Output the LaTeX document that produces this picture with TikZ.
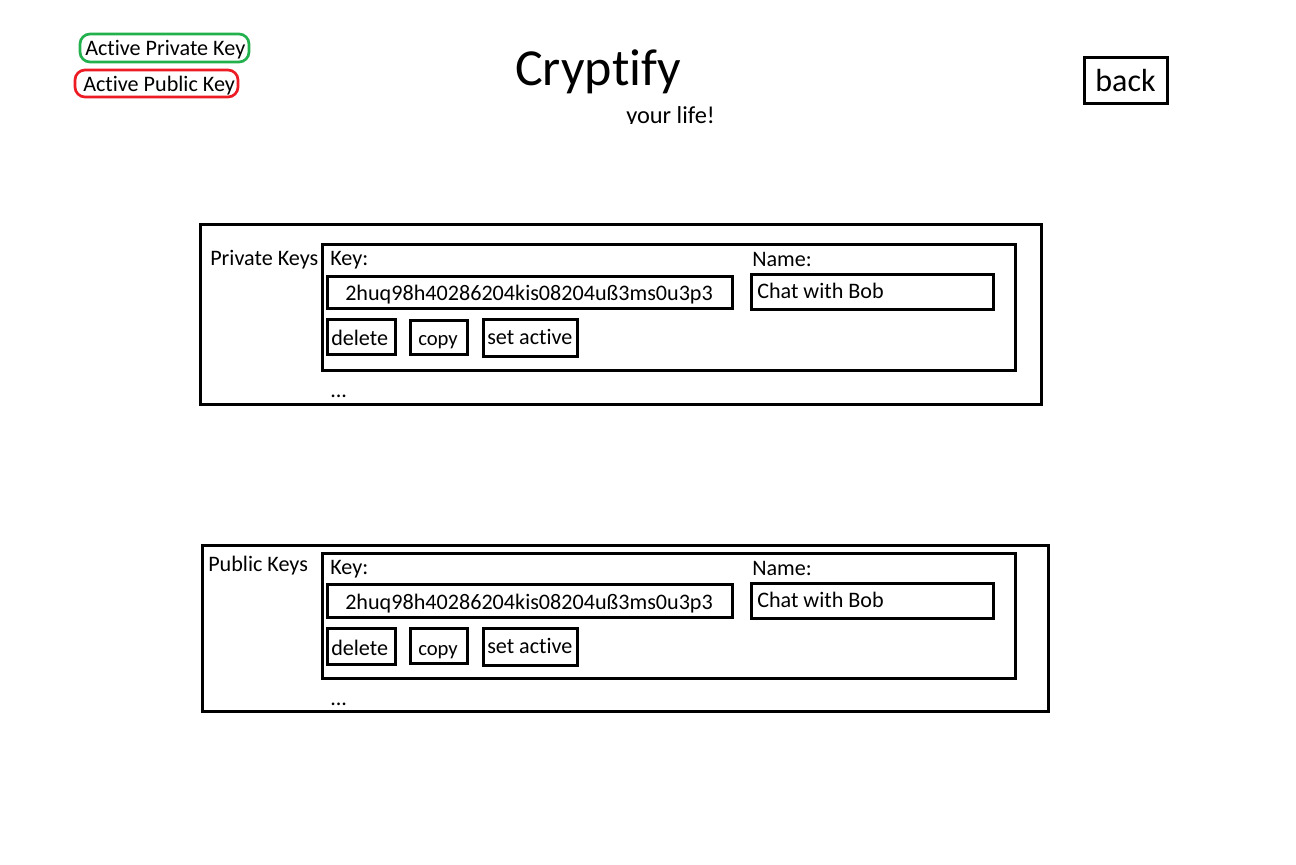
\documentclass[tikz,border=0pt]{standalone}
\usepackage{fontspec}
\setmainfont[Ligatures=NoCommon]{Carlito}
\definecolor{pgreen}{RGB}{34,177,76}
\definecolor{pred}{RGB}{237,28,36}
\begin{document}
\begin{tikzpicture}[x=0.75pt,y=-0.75pt,
  frame/.style={draw=black,line width=2.25pt},
  legendbox/.style={line width=2pt,rounded corners=7.5pt},
  txt/.style={anchor=base west,inner sep=0pt,font=\fontsize{16.6}{19}\selectfont},
  btn/.style={anchor=base west,inner sep=0pt,font=\fontsize{16.6}{19}\selectfont}]
\useasboundingbox[fill=white] (0,0) rectangle (1296,864);

% legend
\draw[legendbox,draw=pgreen] (80,34) rectangle (249,62);
\node[txt] (lpriv) at (85,55) {Active Private Key};
\draw[legendbox,draw=pred] (75,70) rectangle (238,97);
\node[txt] (lpub) at (83,91.5) {Active Public Key};

% title
\node[anchor=base west,inner sep=0pt,font=\fontsize{39}{44}\selectfont] (title) at (515,85) {Cryptify};
\begin{scope}
\clip (600,95) rectangle (760,123.5);
\node[anchor=base west,inner sep=0pt,font=\fontsize{18.3}{22}\selectfont] (sub) at (626,123.3) {your life!};
\end{scope}

% back
\draw[frame] (1084.5,57.5) rectangle (1167,103.5);
\node[anchor=base,inner sep=0pt,font=\fontsize{24}{28}\selectfont] (back) at (1125.5,91) {back};

% ---------- private keys ----------
\draw[frame] (200.5,224.5) rectangle (1041.5,404.5);
\node[txt] (privlbl) at (210,265) {Private Keys};
\draw[frame] (322.5,244.5) rectangle (1015.5,370.5);
\node[txt] (privkey) at (330,265.5) {Key:};
\draw[frame] (327.5,276.5) rectangle (732.5,308.5);
\node[txt] (privkeyval) at (345,300) {2huq98h40286204kis08204uß3ms0u3p3};
\node[txt] (privname) at (752,266.5) {Name:};
\draw[frame] (751.5,274.5) rectangle (993.5,309.5);
\node[txt] (privnameval) at (757,298) {Chat with Bob};
\draw[frame] (327.5,319.5) rectangle (395.5,354.5);
\node[btn] (privdel) at (331,345.5) {delete};
\draw[frame] (410.5,320.5) rectangle (467.5,354.5);
\node[btn,font=\fontsize{15.5}{18}\selectfont] (privcopy) at (418,345.5) {copy};
\draw[frame] (483.5,319.5) rectangle (577.5,356.5);
\node[btn] (privset) at (487,344) {set active};
\node[txt] (privdots) at (330,397) {...};

% ---------- public keys ----------
\draw[frame] (202.5,545.5) rectangle (1048.5,711.5);
\node[txt] (publbl) at (208,571) {Public Keys};
\draw[frame] (322.5,553.5) rectangle (1015.5,678.5);
\node[txt] (pubkey) at (330,574.5) {Key:};
\draw[frame] (327.5,584.5) rectangle (732.5,617.5);
\node[txt] (pubkeyval) at (345,609.5) {2huq98h40286204kis08204uß3ms0u3p3};
\node[txt] (pubname) at (752,575.5) {Name:};
\draw[frame] (751.5,583.5) rectangle (993.5,618.5);
\node[txt] (pubnameval) at (757,607) {Chat with Bob};
\draw[frame] (327.5,628.5) rectangle (395.5,664.5);
\node[btn] (pubdel) at (331,655) {delete};
\draw[frame] (410.5,628.5) rectangle (467.5,663.5);
\node[btn,font=\fontsize{15.5}{18}\selectfont] (pubcopy) at (418,655) {copy};
\draw[frame] (483.5,628.5) rectangle (577.5,665.5);
\node[btn] (pubset) at (487,653) {set active};
\node[txt] (pubdots) at (330,705) {...};
\end{tikzpicture}
\end{document}
